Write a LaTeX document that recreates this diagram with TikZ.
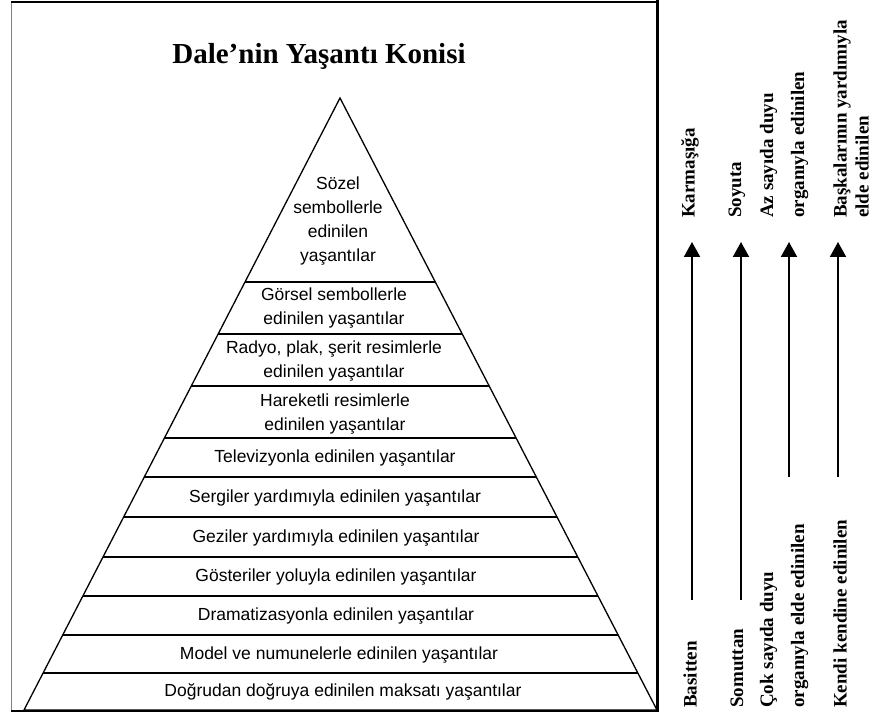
\documentclass[tikz,border=0pt]{standalone}
\usepackage{fontspec}
\setmainfont{Liberation Serif}
\newfontfamily\pyrfont{Liberation Sans}
\usetikzlibrary{arrows.meta,calc}

\begin{document}
\begin{tikzpicture}[x=1pt,y=-1pt,layer/.style={font=\pyrfont\fontsize{17.5}{24}\selectfont,align=center,inner sep=0pt},side/.style={font=\bfseries\fontsize{19}{22}\selectfont,rotate=90,anchor=west,align=left,inner sep=0pt},arrow/.style={-{Triangle[width=16pt,length=15pt]},line width=2pt},rule/.style={line width=1.8pt}]
\useasboundingbox (0,0) rectangle (873,714);
\draw[gray,line width=1pt] (11,2) -- (11,711);
\draw[line width=1.6pt] (11,2) -- (657,2) (11,711) -- (657,711);
\draw[line width=3pt] (657,0.5) -- (657,712);
\node[font=\bfseries\fontsize{29}{34}\selectfont] (title) at (319,56) {Dale’nin Yaşantı Konisi};
\coordinate (apex) at (340,98);
\coordinate (bl) at (24,710);
\coordinate (br) at (657,710);
\draw[line width=1.3pt,line join=miter] (apex) -- (bl) -- (br) -- cycle;
\foreach \y in {282,334,386,438,517,557,596,635,673}
  \draw[rule] ($(apex)!{(\y-98)/612}!(bl)$) -- ($(apex)!{(\y-98)/612}!(br)$);
\draw[rule,line width=2.6pt] ($(apex)!{(477-98)/612}!(bl)$) -- ($(apex)!{(477-98)/612}!(br)$);
\node[layer] (soz) at (338,221) {Sözel\\sembollerle\\edinilen\\yaşantılar};
\node[layer] (gor) at (334,308) {Görsel sembollerle\\edinilen yaşantılar};
\node[layer] (rad) at (334,361) {Radyo, plak, şerit resimlerle\\edinilen yaşantılar};
\node[layer] (har) at (335,414) {Hareketli resimlerle\\edinilen yaşantılar};
\node[layer] (tel) at (335,458) {Televizyonla edinilen yaşantılar};
\node[layer] (ser) at (335,498) {Sergiler yardımıyla edinilen yaşantılar};
\node[layer] (gez) at (336,538) {Geziler yardımıyla edinilen yaşantılar};
\node[layer] (gos) at (336,577) {Gösteriler yoluyla edinilen yaşantılar};
\node[layer] (dra) at (336,616) {Dramatizasyonla edinilen yaşantılar};
\node[layer] (mod) at (339,655) {Model ve numunelerle edinilen yaşantılar};
\node[layer] (dog) at (343,692) {Doğrudan doğruya edinilen maksatı yaşantılar};
\node[side] (karm) at (690,218) {Karmaşığa};
\node[side] (soy) at (737,218) {Soyuta};
\node[side,font=\bfseries\fontsize{19}{31}\selectfont] (az) at (784,218) {Az sayıda duyu\\organıyla edinilen};
\node[side] (bask) at (851,218) {Başkalarının yardımıyla\\elde edinilen};
\node[side] (bas) at (690,708) {Basitten};
\node[side] (som) at (737,708) {Somuttan};
\node[side,font=\bfseries\fontsize{19}{31}\selectfont] (cok) at (784,708) {Çok sayıda duyu\\organıyla elde edinilen};
\node[side] (ken) at (840,708) {Kendi kendine edinilen};
\coordinate (a1) at (692,600);
\coordinate (b1) at (692,242);
\coordinate (a2) at (741,600);
\coordinate (b2) at (741,242);
\coordinate (a3) at (789,477);
\coordinate (b3) at (789,242);
\coordinate (a4) at (838,477);
\coordinate (b4) at (838,242);
\draw[arrow] (a1) -- (b1);
\draw[arrow] (a2) -- (b2);
\draw[arrow] (a3) -- (b3);
\draw[arrow] (a4) -- (b4);
\end{tikzpicture}
\end{document}
